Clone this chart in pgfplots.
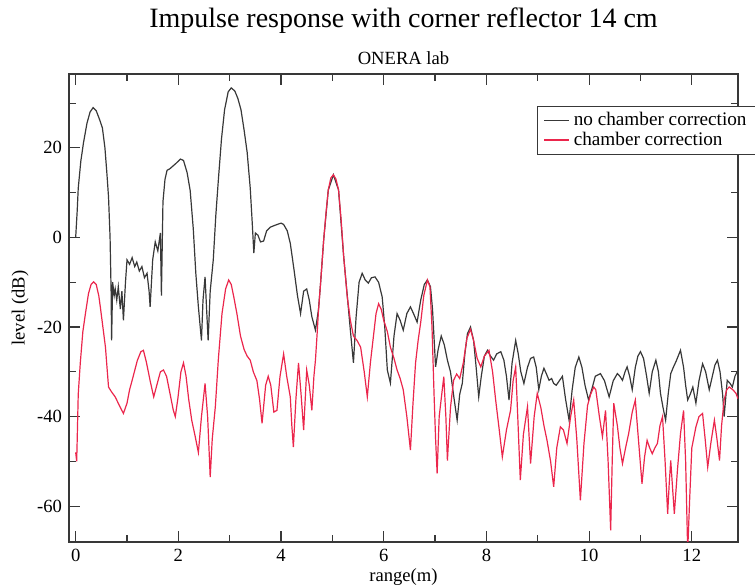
\documentclass[border=0pt]{standalone}
\usepackage{fontspec}
\setmainfont{Liberation Serif}
\usepackage{pgfplots}
\pgfplotsset{compat=1.18}
\definecolor{blk}{rgb}{0.22,0.22,0.22}
\definecolor{rd}{rgb}{0.92,0.15,0.30}
\begin{document}
\begin{tikzpicture}
\begin{axis}[
  scale only axis, width=334.5pt, height=234pt,
  clip mode=individual,
  xmin=-0.13, xmax=12.9, ymin=-68, ymax=36.5,
  xtick={0,2,...,12}, minor xtick={1,3,...,11},
  ytick={-60,-40,...,20}, minor ytick={-50,-30,...,30},
  tick align=inside, major tick length=5.5pt, minor tick length=3.5pt,
  axis line style={blk, line width=0.6pt},
  every tick/.style={blk, line width=0.6pt},
  /pgf/number format/assume math mode=true,
  tick label style={font=\fontsize{9.3}{10}\selectfont},
  label style={font=\fontsize{9.3}{10}\selectfont},
  xlabel={range(m)}, ylabel={level (dB)},
  xlabel style={at={(axis description cs:0.5,-0.075)}, anchor=center},
  ylabel style={at={(axis description cs:-0.073,0.5)}, anchor=center},
  legend style={at={(axis description cs:0.6996,0.9316)}, anchor=north west,
    draw=blk, line width=0.6pt, font=\fontsize{9.6}{9.5}\selectfont,
    inner xsep=3pt, inner ysep=1pt, row sep=-2.5pt, cells={anchor=west}},
  legend image code/.code={\draw[#1] (0pt,0pt) -- (12.5pt,0pt);},
]
\addplot[blk, line width=0.6pt] coordinates {
(0.00,0) (0.03,6) (0.05,11) (0.10,17) (0.15,21) (0.22,25.5) (0.28,28) (0.34,29) (0.40,28.3) (0.46,26.5) (0.52,24.5) (0.57,20) (0.61,14) (0.64,9) (0.67,0) (0.69,-12) (0.70,-23) (0.72,-10) (0.75,-13) (0.77,-11.5) (0.80,-14) (0.83,-11) (0.87,-16) (0.90,-12) (0.93,-18.5) (0.97,-10) (1.00,-5) (1.05,-6) (1.10,-4.5) (1.15,-6.5) (1.19,-5.5) (1.24,-7.5) (1.29,-6.5) (1.34,-9) (1.39,-8) (1.43,-12) (1.45,-15.5) (1.50,-5) (1.55,-1) (1.60,-3) (1.65,1) (1.67,-13) (1.70,8) (1.74,13) (1.78,15) (1.83,15.3) (1.88,15.8) (1.95,16.5) (2.04,17.5) (2.10,17.2) (2.17,14.5) (2.23,10.5) (2.29,2) (2.34,-8) (2.39,-15.5) (2.45,-23) (2.48,-14) (2.52,-8.8) (2.55,-16) (2.58,-23) (2.62,-12) (2.68,-5) (2.73,5) (2.78,13) (2.84,22) (2.90,28.5) (2.97,32.5) (3.03,33.4) (3.10,32.7) (3.16,31) (3.22,28.5) (3.28,24) (3.34,19) (3.40,11) (3.44,3) (3.47,-3.5) (3.50,1) (3.55,0.5) (3.60,-1) (3.66,-0.8) (3.72,1.5) (3.79,2.3) (3.90,2.8) (4.00,3.2) (4.05,2.9) (4.12,1.5) (4.18,-1.3) (4.25,-7) (4.32,-13) (4.38,-17) (4.44,-12) (4.50,-11.5) (4.55,-14) (4.60,-17.7) (4.67,-20.7) (4.73,-16) (4.77,-10.2) (4.83,-0.6) (4.92,10.6) (5.02,14) (5.12,10.6) (5.22,-4.3) (5.29,-13) (5.35,-20.7) (5.41,-28) (5.46,-18) (5.52,-10) (5.58,-8) (5.64,-9.5) (5.70,-10.2) (5.76,-9) (5.83,-8.8) (5.90,-10) (5.97,-13.3) (6.02,-20) (6.07,-29.6) (6.13,-32.5) (6.20,-22) (6.26,-17) (6.32,-18.5) (6.38,-20.7) (6.45,-17) (6.52,-15.5) (6.58,-17) (6.65,-18.9) (6.72,-14) (6.79,-10.5) (6.85,-9.5) (6.91,-11) (6.95,-16) (7.01,-28.9) (7.06,-25) (7.12,-22) (7.18,-24) (7.24,-27.4) (7.30,-30) (7.37,-36) (7.43,-40.8) (7.48,-35) (7.53,-32.6) (7.58,-26) (7.63,-21.5) (7.69,-20) (7.75,-23) (7.80,-29) (7.85,-35.6) (7.90,-31) (7.96,-26.5) (8.02,-25.2) (8.08,-26.5) (8.14,-27.4) (8.20,-26) (8.28,-25.5) (8.34,-27.4) (8.39,-31) (8.44,-36.3) (8.50,-28) (8.57,-23) (8.62,-26) (8.67,-30) (8.73,-32.6) (8.80,-29) (8.86,-27) (8.92,-26.7) (8.97,-29) (9.02,-34) (9.07,-31) (9.12,-29.2) (9.17,-30.5) (9.22,-31.9) (9.27,-31.5) (9.31,-32.6) (9.36,-33) (9.42,-32) (9.48,-31) (9.54,-36) (9.61,-40.8) (9.67,-34) (9.73,-29) (9.80,-26.7) (9.86,-29) (9.92,-33) (9.99,-36.3) (10.05,-34) (10.12,-31) (10.22,-30.4) (10.30,-32) (10.39,-35.6) (10.47,-32) (10.55,-30.4) (10.60,-31) (10.65,-31.9) (10.70,-30) (10.74,-28.9) (10.79,-31) (10.84,-34) (10.90,-29) (10.95,-26.5) (11.00,-25.5) (11.06,-27) (11.12,-31) (11.17,-34.8) (11.23,-30) (11.30,-27.4) (11.35,-30) (11.39,-34.8) (11.44,-38) (11.49,-40.8) (11.54,-35) (11.59,-30.4) (11.64,-29) (11.70,-27.5) (11.78,-25.2) (11.84,-29) (11.88,-33) (11.92,-36.3) (11.97,-35) (12.02,-33.4) (12.08,-37) (12.14,-32) (12.21,-28.2) (12.27,-30) (12.34,-34) (12.40,-31) (12.45,-28.5) (12.50,-27.4) (12.55,-30) (12.60,-35) (12.63,-40) (12.69,-31.9) (12.74,-32.5) (12.79,-33.4) (12.84,-31) (12.90,-29.6)
};
\addlegendentry{no chamber correction}
\addplot[rd, line width=0.6pt] coordinates {
(0.00,-48) (0.02,-50) (0.05,-35) (0.09,-28) (0.14,-21) (0.19,-17) (0.25,-12.5) (0.30,-10.5) (0.35,-9.9) (0.40,-10.5) (0.45,-13) (0.48,-15.5) (0.53,-20) (0.58,-24.5) (0.61,-29) (0.64,-33.4) (0.70,-34.5) (0.77,-35.6) (0.85,-37.5) (0.93,-39.3) (1.00,-37) (1.05,-34) (1.10,-31.9) (1.20,-27.5) (1.27,-25.5) (1.32,-25.2) (1.38,-28) (1.45,-32) (1.52,-35.6) (1.58,-33) (1.65,-30) (1.71,-29.6) (1.77,-31) (1.84,-35) (1.90,-38.5) (1.94,-40) (1.99,-36) (2.05,-30) (2.10,-28) (2.15,-31) (2.20,-36) (2.26,-40.8) (2.32,-44) (2.39,-48) (2.45,-40) (2.52,-32.6) (2.57,-40) (2.60,-48) (2.62,-53.5) (2.66,-45) (2.72,-37.8) (2.78,-27) (2.85,-17) (2.92,-11.5) (2.98,-9.5) (3.03,-10.5) (3.08,-13.3) (3.14,-17) (3.21,-22) (3.28,-25) (3.34,-26.5) (3.40,-27.4) (3.46,-30) (3.53,-32) (3.58,-36) (3.63,-41.5) (3.70,-33) (3.75,-31) (3.80,-33) (3.86,-39) (3.92,-38.6) (3.98,-31) (4.05,-26) (4.11,-31) (4.18,-35.6) (4.21,-42) (4.24,-46.8) (4.29,-36) (4.34,-28) (4.39,-35) (4.44,-43) (4.50,-29.6) (4.55,-33) (4.60,-38.6) (4.64,-31) (4.67,-27.4) (4.70,-22) (4.73,-16.2) (4.77,-10.2) (4.83,-0.6) (4.88,6) (4.92,10.6) (4.97,13.3) (5.02,14) (5.07,13) (5.12,10.6) (5.17,4) (5.22,-4.3) (5.29,-13.3) (5.35,-18.5) (5.41,-22) (5.48,-23) (5.55,-24.5) (5.62,-30) (5.68,-35.6) (5.74,-28) (5.80,-22) (5.85,-17) (5.90,-14.8) (5.95,-16) (6.00,-18.5) (6.07,-21) (6.13,-24.5) (6.20,-27) (6.26,-29.6) (6.32,-31.5) (6.38,-34) (6.45,-40) (6.52,-47.5) (6.57,-37) (6.62,-28) (6.67,-23) (6.72,-19) (6.78,-13) (6.85,-9.5) (6.90,-11) (6.94,-20) (6.98,-35) (7.01,-45) (7.04,-52.7) (7.08,-40) (7.13,-35) (7.17,-31.1) (7.21,-40) (7.24,-49.8) (7.30,-38) (7.36,-31.9) (7.42,-30.5) (7.48,-31.5) (7.55,-28) (7.62,-22.5) (7.69,-20.5) (7.75,-23) (7.82,-27) (7.89,-28.9) (7.96,-26.5) (8.05,-25.2) (8.12,-30) (8.18,-36.3) (8.25,-43) (8.31,-49) (8.39,-43) (8.47,-38.6) (8.52,-32) (8.57,-28.9) (8.61,-40) (8.66,-54.2) (8.72,-44) (8.80,-37.8) (8.86,-50.5) (8.93,-40) (8.99,-34.8) (9.06,-38) (9.12,-42) (9.18,-45.3) (9.25,-50) (9.31,-55.7) (9.37,-47) (9.44,-42.3) (9.50,-43) (9.57,-46) (9.64,-40) (9.70,-36.3) (9.76,-45) (9.83,-58.7) (9.90,-46) (9.97,-37.5) (10.03,-35) (10.09,-33.4) (10.13,-34) (10.20,-40) (10.26,-44.5) (10.32,-38.6) (10.37,-50) (10.42,-65.4) (10.45,-50) (10.48,-37) (10.55,-42) (10.60,-47) (10.65,-50.5) (10.71,-47) (10.77,-43.8) (10.84,-39) (10.90,-36.3) (10.96,-45) (11.03,-55) (11.08,-49) (11.13,-45.3) (11.18,-47) (11.23,-48.3) (11.28,-47) (11.33,-46) (11.38,-42) (11.43,-40) (11.48,-50) (11.53,-61.7) (11.56,-55) (11.59,-49.8) (11.62,-55) (11.66,-61.7) (11.72,-52) (11.78,-43.8) (11.84,-38.6) (11.88,-50) (11.92,-70) (11.96,-58) (12.00,-47) (12.08,-42.3) (12.14,-40) (12.21,-39.3) (12.26,-45) (12.31,-51.3) (12.37,-46) (12.44,-40.8) (12.49,-45) (12.54,-49.8) (12.58,-42) (12.63,-36.3) (12.68,-34) (12.73,-33.4) (12.80,-34) (12.86,-34.8) (12.90,-36)
};
\addlegendentry{chamber correction}
\node[font=\fontsize{14}{16}\selectfont, anchor=center] at (axis description cs:0.5,1.115) {Impulse response with corner reflector 14 cm};
\node[font=\fontsize{9.3}{10}\selectfont, anchor=center] at (axis description cs:0.5,1.034) {ONERA lab};
\end{axis}
\pgfresetboundingbox
\path[use as bounding box] ([shift={(-34.5pt,-23pt)}]current axis.south west) rectangle ([shift={(8.5pt,37pt)}]current axis.north east);
\end{tikzpicture}
\end{document}
